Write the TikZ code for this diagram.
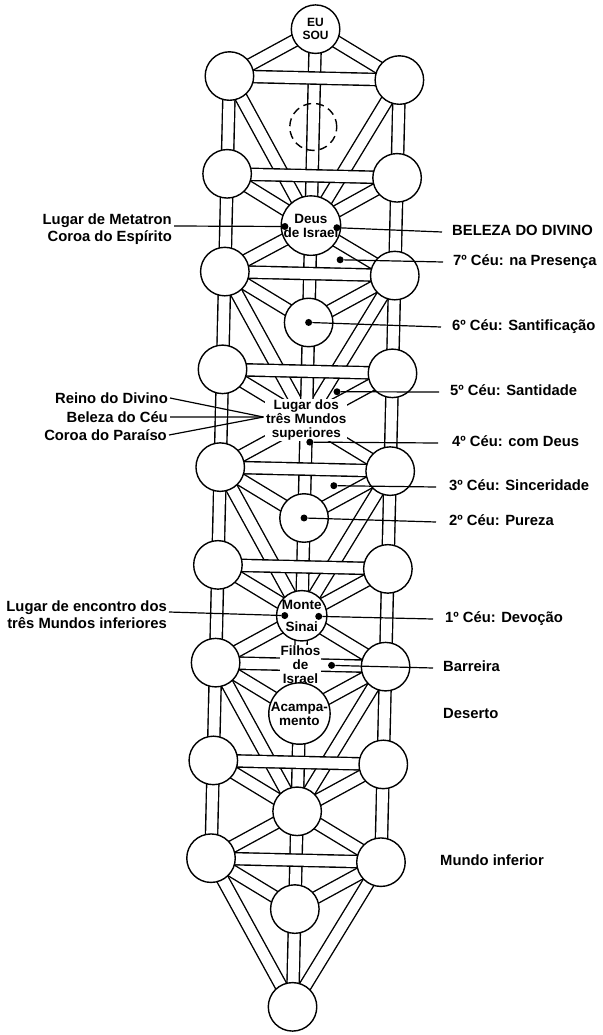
\documentclass[tikz,border=0pt]{standalone}
\usepackage{fontspec}
\setmainfont{Liberation Sans}
\usetikzlibrary{positioning}
\pgfdeclarelayer{background}
\pgfsetlayers{background,main}
\newcommand{\lblfont}{\fontsize{14.8}{16.8}\selectfont\bfseries}
\newcommand{\innfont}{\fontsize{13.5}{13.8}\selectfont\bfseries}
\newcommand{\topfont}{\fontsize{12}{12.5}\selectfont\bfseries}
\tikzset{
   sefira/.style={circle, draw, line width=1.4pt, fill=white, minimum size=48.5pt,
      inner sep=0pt, font=\innfont, align=center},
   channel/.style={line width=1.4pt, double=white, double distance=10.8pt},
   leader/.style={line width=1.2pt},
   dot/.style={circle, fill=black, inner sep=0pt, minimum size=7pt},
   rlbl/.style={font=\lblfont, inner sep=0pt, anchor=west, text height=10pt, text depth=3pt},
   llbl/.style={font=\lblfont, inner sep=0pt, anchor=east, align=right}
}

\begin{document}
\begin{tikzpicture}[x=1pt, y=-1pt]
   \useasboundingbox (0,0) rectangle (602,1035);
   % the ladder, slightly tilted as on the page
   \begin{scope}[rotate around={-1.35:(304,520)}]
      % side circles
      \foreach \k in {1,3,...,17} {
         \node[sefira] (L\k) at (219,{29+48.9*\k}) {};
         \node[sefira] (R\k) at (389,{29+48.9*\k}) {};
      }
      % middle column
      \node[sefira, font=\topfont] (C0) at (304,29) {EU\\SOU};
      \node[circle, draw, line width=1.4pt, dash pattern=on 8pt off 5pt,
         minimum size=47pt] (C2) at (304,126.8) {};
      \node[sefira] (C4) at (304,225.5) {Deus\\de Israel};
      \node[sefira] (C6) at (304,322.4) {};
      \node[fill=white, font=\innfont, align=center, inner sep=1pt] (C8)
         at (304,420.2) {Lugar dos\\três Mundos\\superiores};
      \node[sefira] (C10) at (304,518) {};
      \node[sefira] (C12) at (304,615.8) {Monte\\[8pt]Sinai};
      \node[fill=white, font=\innfont, align=center, inner sep=0.5pt] (C13)
         at (304,664.7) {Filhos\\de\\Israel};
      \node[sefira] (C14) at (304,713.6) {Acampa-\\mento};
      \node[sefira] (C16) at (304,811.4) {};
      \node[sefira] (C18) at (304,909.2) {};
      \node[sefira] (C20) at (304,1007) {};
      % channels behind the circles
      \begin{pgfonlayer}{background}
         \foreach \s/\c in {1/0,1/4,3/4,5/4,5/6,5/8,7/8,9/8,9/10,9/12,
               11/12,13/12,13/14,13/16,15/16,17/16,17/18,17/20}
            \draw[channel] (L\s.center) -- (C\c.center) (R\s.center) -- (C\c.center);
         \draw[channel] (C0.center) -- (C20.center);
         \draw[channel] (L1.center) -- (L17.center) (R1.center) -- (R17.center);
         \foreach \k in {1,3,...,17}
            \draw[channel] (L\k.center) -- (R\k.center);
      \end{pgfonlayer}
      % dots
      \node[dot] (dMet) at (278,227) {};
      \node[dot] (dBel) at (330,227) {};
      \node[dot] (d7) at (334,259) {};
      \node[dot] (d6) at (C6) {};
      \node[dot] (d5) at (334,391) {};
      \node[dot] (d4) at (308,442) {};
      \node[dot] (d3) at (333,485) {};
      \node[dot] (d2) at (C10) {};
      \node[dot] (d1) at (321,616) {};
      \node[dot] (dEnc) at (287,616) {};
      \node[dot] (dBar) at (335,664.7) {};
      \coordinate (cv) at (261,418);
   \end{scope}

   % labels on the right
   \node[rlbl] (lBel) at (452,232) {BELEZA DO DIVINO};
   \node[rlbl] (l7) at (453,262) {7º Céu: na Presença};
   \node[rlbl] (l6) at (452,327) {6º Céu: Santificação};
   \node[rlbl] (l5) at (450,392) {5º Céu: Santidade};
   \node[rlbl] (l4) at (452,443) {4º Céu: com Deus};
   \node[rlbl] (l3) at (449,487) {3º Céu: Sinceridade};
   \node[rlbl] (l2) at (449,522) {2º Céu: Pureza};
   \node[rlbl] (l1) at (445,619) {1º Céu: Devoção};
   \node[rlbl] (lBar) at (443,668) {Barreira};
   \node[rlbl] (lDes) at (443,715) {Deserto};
   \node[rlbl] (lMun) at (440,862) {Mundo inferior};
   % labels on the left
   \node[llbl] (lMet) at (172,229.5) {Lugar de Metatron\\Coroa do Espírito};
   \node[llbl] (lRei) at (168,398) {Reino do Divino};
   \node[llbl] (lBce) at (168,417) {Beleza do Céu};
   \node[llbl] (lCor) at (167,435) {Coroa do Paraíso};
   \node[llbl] (lEnc) at (167,615) {Lugar de encontro dos\\três Mundos inferiores};

   % leader lines
   \draw[leader] ([xshift=2pt,yshift=3.5pt]lMet.east) -- (dMet);
   \draw[leader] (dBel) -- ([xshift=-10pt]lBel.west);
   \draw[leader] (d7) -- ([xshift=-10pt]l7.west);
   \draw[leader] (d6) -- ([xshift=-11pt]l6.west);
   \draw[leader] (d5) -- ([xshift=-11pt]l5.west);
   \draw[leader] (d4) -- ([xshift=-14pt]l4.west);
   \draw[leader] (d3) -- ([xshift=-13pt]l3.west);
   \draw[leader] (d2) -- ([xshift=-13pt]l2.west);
   \draw[leader] (d1) -- ([xshift=-12pt]l1.west);
   \draw[leader] (dBar) -- ([xshift=-10pt]lBar.west);
   \draw[leader] ([xshift=2pt]lRei.east) -- (cv);
   \draw[leader] ([xshift=2pt]lBce.east) -- (cv);
   \draw[leader] ([xshift=2pt]lCor.east) -- (cv);
   \draw[leader] ([xshift=2pt,yshift=3pt]lEnc.east) -- (dEnc);
\end{tikzpicture}
\end{document}
